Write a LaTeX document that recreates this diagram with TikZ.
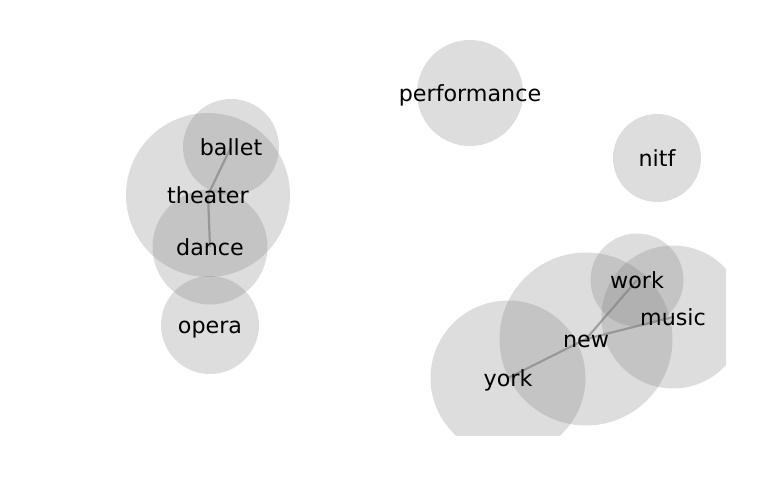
\documentclass[tikz,border=0pt]{standalone}
\usepackage{fontspec}
\setmainfont{DejaVu Sans}
\pgfdeclarelayer{background}
\pgfsetlayers{background,main}
\tikzstyle{word}=[inner sep=0pt, text height=16.5bp, text depth=0pt, text=black,
  font=\fontsize{22.3pt}{26pt}\selectfont]
\tikzstyle{bubble}=[fill=gray, fill opacity=.27]
\tikzstyle{link}=[draw=gray, line width=2.2bp, opacity=.65]

\begin{document}
\begin{tikzpicture}[x=1bp,y=-1bp]
  \useasboundingbox (0,0) rectangle (769,500);

  %% words
  \node[word] (performance) at (470,93) {performance};
  \node[word] (nitf) at (657,158) {nitf};
  \node[word] (ballet) at (231,147) {ballet};
  \node[word] (theater) at (208,195) {theater};
  \node[word] (dance) at (210,247) {dance};
  \node[word] (opera) at (210,325) {opera};
  \node[word] (work) at (637,280) {work};
  \node[word] (music) at (673,317) {music};
  \node[word] (new) at (586,339) {new};
  \node[word] (york) at (508,378) {york};

  \begin{pgfonlayer}{background}
    \begin{scope}
      \clip (0,0) rectangle (726,435);
      \foreach \w/\r in {performance/53,nitf/44,ballet/48,theater/82,dance/57.5,
                         opera/49,work/46.5,music/71.5,new/86.5,york/77.5}
        \fill[bubble] (\w.center) circle (\r);
    \end{scope}

    %% links
    \draw[link] (theater.center) -- (ballet.center);
    \draw[link] (theater.center) -- (dance.center);
    \draw[link] (new.center) -- (york.center);
    \draw[link] (new.center) -- (work.center);
    \draw[link] (new.center) -- (music.center);
  \end{pgfonlayer}
\end{tikzpicture}
\end{document}
